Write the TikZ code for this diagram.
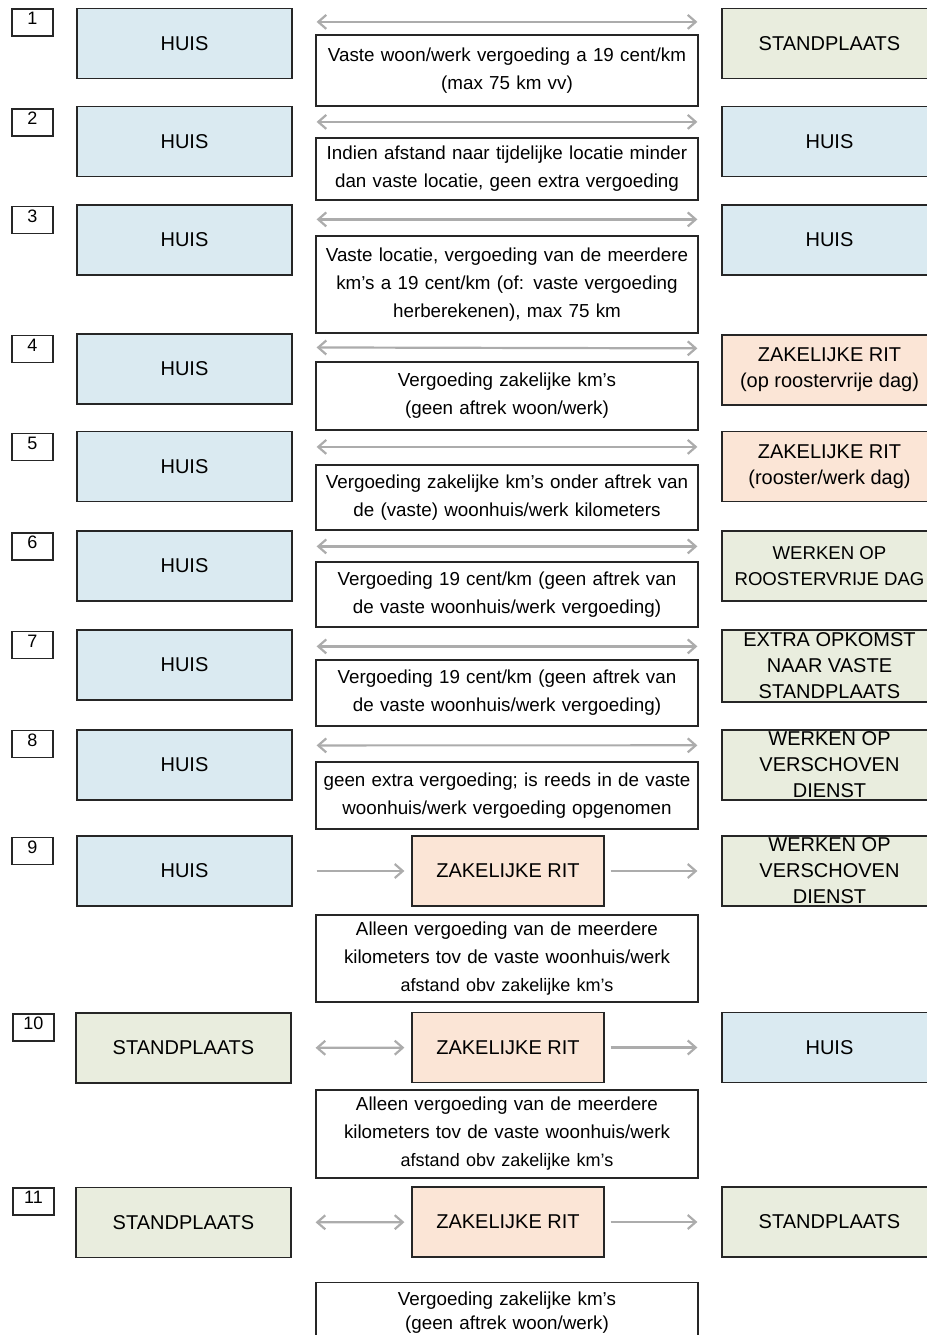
\documentclass[tikz,border=0pt]{standalone}
\usepackage{fontspec}
\setmainfont{Liberation Sans}
\usetikzlibrary{arrows.meta}
\definecolor{huisblue}{RGB}{218,234,241}
\definecolor{standgreen}{RGB}{233,237,222}
\definecolor{ritpeach}{RGB}{251,229,214}
\hyphenpenalty=10000
\tikzset{
  box/.style={draw=black!85, line width=0.6pt, minimum width=107.5pt, minimum height=35pt,
    inner sep=1pt, align=center, font=\fontsize{10}{13}\selectfont},
  huis/.style={box, fill=huisblue},
  stand/.style={box, fill=standgreen},
  rit/.style={box, fill=ritpeach},
  zak/.style={rit, minimum width=96pt},
  uitleg/.style={draw=black!85, line width=0.6pt, text width=189pt, inner xsep=1pt, inner ysep=1pt,
    align=center, font=\fontsize{9.4}{14}\selectfont},
  nummer/.style={draw=black!85, line width=0.6pt, minimum width=20.5pt, minimum height=13.5pt,
    inner sep=0pt, text height=6.5pt, text depth=4.5pt, font=\fontsize{9}{10}\selectfont},
  barb/.tip={Straight Barb[length=4pt,width=7pt]},
  pijl/.style={draw=gray!65, line width=1.1pt},
  beide/.style={pijl, barb-barb, shorten <=12pt, shorten >=12pt},
}
\begin{document}
\begin{tikzpicture}[x=0.5pt, y=-0.5pt]
\useasboundingbox (0,0) rectangle (927,1335);
\clip (0,0) rectangle (927,1335);
%\draw[help lines] (0,0) grid[step=100] (927,1335);
    \node[nummer] (n1) at (32.5,22.5) {1};
    \node[huis] (h1) at (184.5,43.5) {HUIS};
    \node[stand] (r1) at (829.5,43.5) {STANDPLAATS};
    \node[uitleg, minimum height=35.5pt] (t1) at (507,70.5) {Vaste woon/werk vergoeding a 19 cent/km\\(max 75 km vv)};

    \node[nummer] (n2) at (32.5,122.5) {2};
    \node[huis] (h2) at (184.5,141.5) {HUIS};
    \node[huis] (r2) at (829.5,141.5) {HUIS};
    \node[uitleg, minimum height=31pt] (t2) at (507,169) {Indien afstand naar tijdelijke locatie minder\\dan vaste locatie, geen extra vergoeding};

    \node[nummer] (n3) at (32.5,220) {3};
    \node[huis] (h3) at (184.5,240) {HUIS};
    \node[huis] (r3) at (829.5,240) {HUIS};
    \node[uitleg, minimum height=48.5pt] (t3) at (507,284.5) {Vaste locatie, vergoeding van de meerdere\\km's a 19 cent/km (of: vaste vergoeding\\herberekenen), max 75 km};

    \node[nummer] (n4) at (32.5,349) {4};
    \node[huis] (h4) at (184.5,369) {HUIS};
    \node[rit] (r4) at (829.5,370) {ZAKELIJKE RIT\\(op roostervrije dag)};
    \node[uitleg, minimum height=34pt] (t4) at (507,396) {Vergoeding zakelijke km's\\(geen aftrek woon/werk)};

    \node[nummer] (n5) at (32.5,447) {5};
    \node[huis] (h5) at (184.5,466.5) {HUIS};
    \node[rit] (r5) at (829.5,466.5) {ZAKELIJKE RIT\\(rooster/werk dag)};
    \node[uitleg, minimum height=32.5pt] (t5) at (507,497.5) {Vergoeding zakelijke km's onder aftrek van\\de (vaste) woonhuis/werk kilometers};

    \node[nummer] (n6) at (32.5,546.5) {6};
    \node[huis] (h6) at (184.5,566) {HUIS};
    \node[stand, font=\fontsize{9.3}{13}\selectfont] (r6) at (829.5,566) {WERKEN OP\\ROOSTERVRIJE DAG};
    \node[uitleg, minimum height=32.5pt] (t6) at (507,594.5) {Vergoeding 19 cent/km (geen aftrek van\\de vaste woonhuis/werk vergoeding)};

    \node[nummer] (n7) at (32.5,645) {7};
    \node[huis] (h7) at (184.5,665) {HUIS};
    \node[stand, minimum height=36pt] (r7) at (829.5,666) {EXTRA OPKOMST\\NAAR VASTE\\STANDPLAATS};
    \node[uitleg, minimum height=33pt] (t7) at (507,693) {Vergoeding 19 cent/km (geen aftrek van\\de vaste woonhuis/werk vergoeding)};

    \node[nummer] (n8) at (32.5,744) {8};
    \node[huis] (h8) at (184.5,765) {HUIS};
    \node[stand] (r8) at (829.5,765) {WERKEN OP\\VERSCHOVEN\\DIENST};
    \node[uitleg, minimum height=33.5pt] (t8) at (507,795.5) {geen extra vergoeding; is reeds in de vaste\\woonhuis/werk vergoeding opgenomen};

    \node[nummer] (n9) at (32.5,851) {9};
    \node[huis] (h9) at (184.5,871) {HUIS};
    \node[zak] (z9) at (508,871) {ZAKELIJKE RIT};
    \node[stand] (r9) at (829.5,871) {WERKEN OP\\VERSCHOVEN\\DIENST};
    \node[uitleg, minimum height=43.5pt] (t9) at (507,958.5) {Alleen vergoeding van de meerdere\\kilometers tov de vaste woonhuis/werk\\{\fontsize{9}{14}\selectfont afstand obv zakelijke km's}};

    \node[nummer] (n10) at (33.5,1027.5) {10};
    \node[stand] (h10) at (183.5,1048) {STANDPLAATS};
    \node[zak] (z10) at (508,1047.5) {ZAKELIJKE RIT};
    \node[huis] (r10) at (829.5,1047.5) {HUIS};
    \node[uitleg, minimum height=44pt] (t10) at (507,1134) {Alleen vergoeding van de meerdere\\kilometers tov de vaste woonhuis/werk\\{\fontsize{9}{14}\selectfont afstand obv zakelijke km's}};

    \node[nummer] (n11) at (33.5,1201.5) {11};
    \node[stand] (h11) at (183.5,1222.5) {STANDPLAATS};
    \node[zak] (z11) at (508,1222) {ZAKELIJKE RIT};
    \node[stand] (r11) at (829.5,1222) {STANDPLAATS};
    \node[uitleg, anchor=north, minimum height=30pt, font=\fontsize{9.4}{12}\selectfont] (t11) at (507,1282) {Vergoeding zakelijke km's\\(geen aftrek woon/werk)};

    \draw [beide] ([yshift=-7pt]h1.north east) -- ([yshift=-7pt]r1.north west);
    \draw [beide] ([yshift=-8pt]h2.north east) -- ([yshift=-8pt]r2.north west);
    \draw [beide] ([yshift=-7.5pt]h3.north east) -- ([yshift=-7.5pt]r3.north west);
    \draw [beide] ([yshift=-7pt]h4.north east) -- ([yshift=-7pt]r4.north west);
    \draw [beide] ([yshift=-8pt]h5.north east) -- ([yshift=-8pt]r5.north west);
    \draw [beide] ([yshift=-8pt]h6.north east) -- ([yshift=-8pt]r6.north west);
    \draw [beide] ([yshift=-8.5pt]h7.north east) -- ([yshift=-8.5pt]r7.north west);
    \draw [beide] ([yshift=-8pt]h8.north east) -- ([yshift=-8pt]r8.north west);
    \draw [pijl, -barb, shorten <=12pt, shorten >=3.5pt] (h9) -- (z9);
    \draw [pijl, -barb, shorten <=3pt, shorten >=12pt] (z9) -- (r9);
    \draw [pijl, barb-barb, shorten <=12pt, shorten >=3.5pt] (h10) -- (z10);
    \draw [pijl, -barb, shorten <=3pt, shorten >=12pt] (z10) -- (r10);
    \draw [pijl, barb-barb, shorten <=12pt, shorten >=3.5pt] (h11) -- (z11);
    \draw [pijl, -barb, shorten <=3pt, shorten >=12pt] (z11) -- (r11);
\end{tikzpicture}
\end{document}
